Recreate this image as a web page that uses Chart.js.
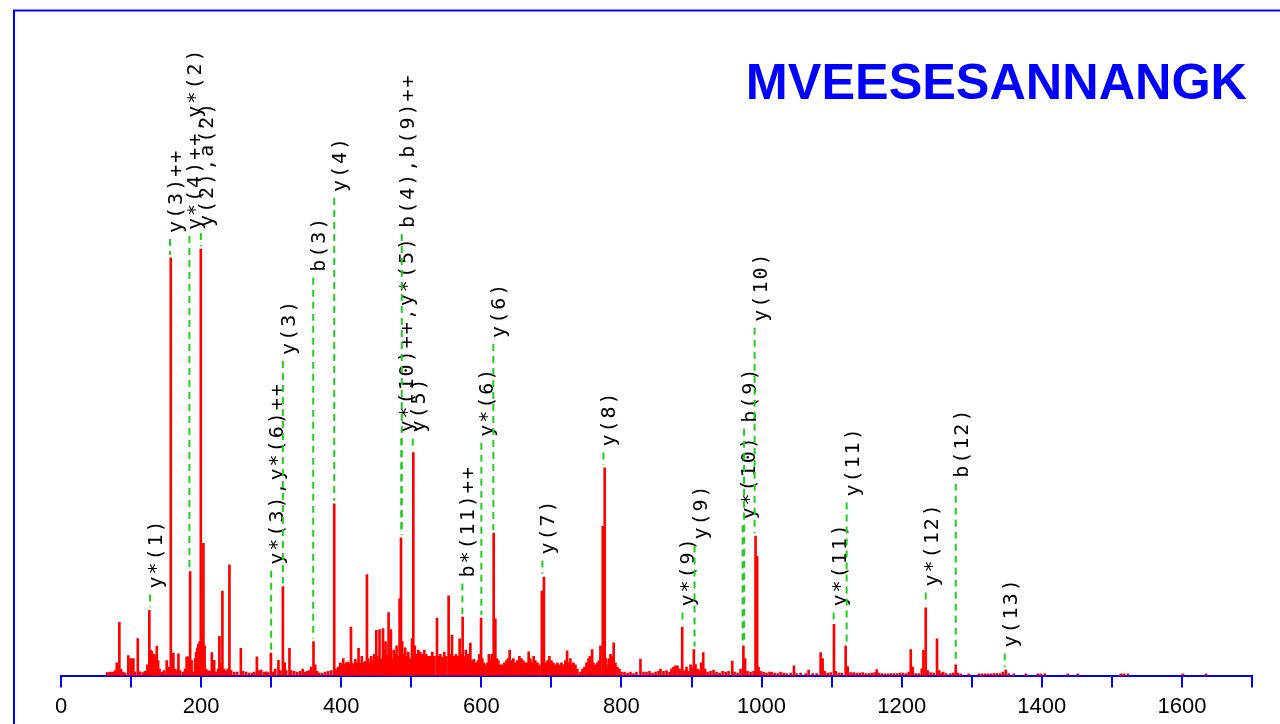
<!DOCTYPE html>
<html>
<head>
<meta charset="utf-8">
<script src="https://cdn.jsdelivr.net/npm/chart.js@4.4.1/dist/chart.umd.min.js"></script>
<style>
  html, body { margin: 0; padding: 0; background: #ffffff; overflow: hidden; }
  #wrap { width: 1280px; height: 726px; }
</style>
</head>
<body>
<div id="wrap"><canvas id="c" width="1280" height="726"></canvas></div>
<script>
// ---- DATA ----
const peptide = "MVEESESANNANGK";

// peak m/z values
const mz = [
  65.7, 68.6, 71.4, 74.3, 77.1, 79.6, 83.3, 85.7, 88.6, 91.4, 96.1, 99.6, 103.3, 105.7, 109.6, 112.9,
  117.1, 120, 123.3, 126.1, 127.9, 129.6, 131.4, 133.3, 135, 136.7, 138.6, 140.7, 144.3, 147.1, 150.9,
  153.6, 156.7, 158.6, 160.4, 162.9, 165, 167.6, 170, 174.3, 177.1, 179.3, 181.9, 184.3, 186.4, 188.6,
  191.4, 192.9, 194.6, 196.1, 197.9, 199.6, 201.4, 203.3, 205, 207.1, 210, 212.9, 215.3, 218.6, 221.4,
  224.3, 226.1, 228.6, 230.4, 232.9, 235.7, 237.9, 240.4, 242.9, 247.1, 251.4, 256.7, 260, 264.3, 268.6,
  272.9, 275.7, 279.6, 282.1, 285.7, 290, 292.9, 295.7, 299.6, 302.9, 305.7, 310.4, 312.9, 316.7, 319.3,
  321.4, 326.1, 328.6, 332.9, 337.1, 341.4, 345, 348.6, 351.4, 354.3, 357.1, 360.4, 362.9, 365.7, 368.6,
  372.9, 377.1, 381.4, 385.7, 390, 392.9, 395.7, 398.6, 400.7, 402.9, 405, 407.1, 409.3, 411.4, 413.9,
  415.7, 417.9, 420, 422.1, 424.7, 427.1, 429.3, 431.4, 433.6, 436.7, 438.6, 440.7, 442.9, 445, 447.1,
  450, 452.1, 454.7, 457.1, 459.6, 461.4, 463.3, 465, 467.6, 469.3, 470.9, 472.9, 475, 477.1, 479, 480.7,
  483.3, 485.3, 487.1, 489.3, 491.4, 493.6, 495.7, 497.9, 501, 502.9, 505, 507.1, 510, 512.9, 515.7,
  518.6, 521.4, 524.3, 527.1, 530, 532.9, 536.7, 538.6, 541.4, 544.3, 547.1, 550, 553.3, 555.7, 558.1,
  560.7, 563.6, 566.4, 569, 571.4, 573.3, 575.7, 577.9, 580.7, 584.3, 587.1, 589.3, 592.1, 595, 597.1,
  599.6, 601.4, 603.6, 605.7, 608.6, 610.7, 612.9, 615, 617.6, 620, 622.1, 624.3, 627.1, 630, 632.9,
  635.7, 637.9, 640.4, 642.9, 645.7, 648.6, 651.4, 654.3, 657.1, 660, 662.9, 665, 667.6, 670, 672.1,
  674.7, 677.1, 680, 682.9, 686.4, 689.3, 692.1, 694.3, 697.1, 700, 702.9, 705.7, 708.6, 711.4, 714.3,
  717.1, 720, 722.4, 725, 727.1, 729.3, 731.4, 734.3, 737.1, 741.4, 744.3, 747.1, 750, 752.9, 755,
  758.1, 760, 762.9, 765.7, 767.9, 770, 773.3, 776.1, 777.9, 780, 782.1, 784.3, 786.4, 788.9, 791.4,
  794.3, 797.1, 800, 804.3, 808.6, 812.9, 817.1, 821.4, 827.1, 831.4, 835.7, 840, 844.3, 848.6, 852.9,
  855.7, 860, 864.3, 868.6, 871.4, 874.3, 877.1, 880, 882.9, 886.7, 890, 892.9, 895.7, 898.6, 900.7,
  903.3, 905.7, 908.6, 911.4, 913.6, 916.7, 919.3, 922.9, 927.1, 931.4, 935.7, 940, 944.3, 948.6, 952.9,
  958.1, 961.4, 965.7, 970, 974, 976.4, 980, 984.3, 988.6, 991.4, 993.6, 995.7, 998.6, 1002.9, 1007.1,
  1011.4, 1014.3, 1018.6, 1022.9, 1027.1, 1031.4, 1035.7, 1041.4, 1046.1, 1050, 1055.7, 1062.9, 1067.1,
  1072.9, 1078.6, 1084.3, 1087.1, 1090, 1094.3, 1098.6, 1103.3, 1105.7, 1110, 1114.3, 1120, 1122.9,
  1127.1, 1131.4, 1135.7, 1140, 1144.3, 1148.6, 1152.9, 1157.1, 1161.4, 1164.3, 1167.1, 1171.4, 1175.7,
  1180, 1184.3, 1188.6, 1192.9, 1197.1, 1201.4, 1205.7, 1210, 1212.9, 1215.7, 1220, 1224.3, 1228.6,
  1231, 1234.3, 1237.1, 1241.4, 1245.7, 1250.4, 1253.6, 1256.4, 1259.3, 1263.6, 1269.3, 1273.6, 1277.1,
  1280, 1284.3, 1295.7, 1310, 1314.3, 1318.6, 1322.9, 1327.1, 1331.4, 1335.7, 1340, 1344.3, 1348.6,
  1352.9, 1360, 1377.1, 1394.3, 1398.6, 1404.3, 1437.1, 1451.4, 1512.9, 1517.1, 1522.9, 1601.4, 1634.3
];

// relative intensity (%) of each peak
const intensity = [
  0.7, 0.7, 0.8, 0.8, 1.2, 3, 12.5, 1.5, 0.8, 0.6, 4.7, 4, 4, 0.8, 8.7, 0.9,
  0.7, 1, 2.5, 15.3, 6, 5.7, 4.5, 5, 4, 6.9, 3.5, 1.5, 0.8, 1.2, 3.5,
  2, 98, 2, 5.3, 1.5, 1.2, 5.1, 1.2, 0.8, 1.5, 4.4, 4.4, 24.4, 3.5, 0.8,
  4, 5.5, 6.5, 7.4, 8, 100, 9, 31, 7, 1.5, 1.2, 1, 5.4, 3.6, 0.8,
  1.5, 9.2, 3, 19.8, 1.5, 1, 1.5, 26, 1.2, 0.8, 0.8, 6.4, 1, 0.8, 0.6,
  0.6, 0.8, 4.4, 1.2, 1.3, 0.8, 0.9, 0.7, 5.3, 0.8, 1.5, 3.6, 1.2, 20.9, 3,
  1.2, 6.4, 1.2, 1, 0.8, 1, 1.5, 0.8, 1, 1.2, 2, 8, 2.5, 1, 0.6,
  0.6, 0.8, 1, 1.2, 40.3, 1.5, 2, 3, 2.5, 4, 2.5, 3, 3.2, 2.8, 11.4,
  3, 2.5, 3.8, 3, 6.4, 3, 4.5, 3, 3.3, 23.7, 4, 3, 4.5, 3.3, 5,
  10.6, 4.5, 10.8, 4, 11, 6, 8, 5, 14.8, 5, 10.8, 4, 6, 5, 7, 4.5,
  18, 32.3, 8, 5, 6.5, 4.5, 5.5, 4, 8.7, 52.3, 7, 5, 6, 5.5, 5,
  6, 5, 4.5, 4.5, 5.5, 4.5, 13.5, 4.5, 5, 4.3, 5.5, 4.5, 18.7, 5, 9.5,
  4.5, 5, 4.5, 8.6, 5, 13.7, 4.5, 6, 5, 7.6, 3.5, 3.8, 3, 3.5, 5,
  13.5, 4, 3, 2.5, 3, 5, 4, 5, 33.4, 13.3, 4, 3.5, 2.5, 2.5, 3,
  3.5, 4, 6, 3.5, 4, 3, 3.5, 4.5, 4, 3.5, 3, 3, 5.6, 4, 3,
  4.5, 3.5, 3, 2.5, 19.8, 23.1, 3, 3.5, 4.5, 3.5, 3, 2.5, 3, 2.5, 3,
  2.5, 3.5, 5.8, 3, 4, 2.5, 3, 2.5, 1.5, 0.8, 1.5, 2, 3, 4, 4.5,
  6.1, 3, 2.5, 3, 3.5, 7, 35, 48.7, 4, 2.5, 4, 5, 4.5, 7.7, 3,
  2, 1.5, 0.8, 0.8, 0.6, 0.8, 0.5, 0.8, 3.9, 0.8, 0.8, 1, 0.6, 0.8, 1,
  1.5, 1, 1.2, 0.8, 1.6, 2, 2.3, 2.3, 1.5, 11.4, 1.2, 2, 1, 2.5, 1.8,
  6.1, 2.6, 1.5, 1.2, 3, 5.4, 1.5, 0.8, 1, 1.3, 0.8, 0.6, 1, 0.8, 1,
  3.4, 0.8, 0.6, 1.5, 7, 4, 1, 0.8, 1, 32.7, 28, 2, 1, 0.8, 0.6,
  0.8, 0.8, 0.6, 0.5, 0.8, 0.6, 0.5, 0.6, 2.3, 0.5, 0.6, 0.5, 1.3,
  0.5, 0.5, 5.4, 4, 1, 0.6, 0.7, 12, 1, 0.6, 0.6, 6.9, 2.1,
  0.7, 0.7, 0.6, 0.6, 0.7, 0.5, 0.5, 0.6, 0.7, 1.4, 0.6, 0.5, 0.4,
  0.4, 0.5, 0.5, 0.5, 0.6, 0.6, 0.5, 0.8, 6.1, 2, 0.5, 0.5, 1.6,
  6, 15.9, 1.2, 0.7, 0.6, 8.6, 1.2, 0.6, 0.8, 0.5, 0.5, 0.6, 2.5,
  0.6, 0.4, 0.4, 0.4, 0.4, 0.4, 0.4, 0.4, 0.5, 0.5, 0.5, 0.8, 1.3,
  0.5, 0.4, 0.4, 0.4, 0.4, 0.4, 0.4, 0.4, 0.4, 0.4, 0.4, 0.4, 0.4
];

// fragment annotations
const labelText = [
  "y*(1)", "y(3)++", "y*(4)++,y*(2)", "y(2),a(2)", "y*(3),y*(6)++", "y(3)", "b(3)", "y(4)",
  "y*(10)++,y*(5)", "b(4),b(9)++", "y(5)", "b*(11)++", "y*(6)", "y(6)", "y(7)", "y(8)",
  "y*(9)", "y(9)", "y*(10)", "b(9)", "y(10)", "y*(11)", "y(11)", "y*(12)", "b(12)", "y(13)"
];
const labelMz = [
  127.1, 155.7, 183.3, 199.6, 300, 316.7, 360, 390,
  485.7, 486.4, 502.1, 572.9, 600, 617.1, 687.1, 774.3,
  887.1, 904.3, 972.9, 975, 990, 1102.9, 1121.4, 1234.3, 1277.1, 1347.1
];
// height (in % units) where each label text begins
const labelLevel = [
  20.4, 103.8, 104.5, 105.2, 26, 75.2, 94.7, 113.4,
  57, 105, 57, 23, 56, 79.2, 28.4, 53.7,
  16.2, 31.9, 36.6, 59.3, 83, 16.2, 42, 20.9, 46.4, 6.6
];

const xTickStep = 100;
const xMin = 0, xMax = 1700;

// ---- CHART ----
const annotate = {
  id: 'annotate',
  beforeDraw(chart) {
    const ctx = chart.ctx;
    ctx.save();
    ctx.strokeStyle = '#0000ff';
    ctx.lineWidth = 2;
    ctx.beginPath();
    ctx.moveTo(13, 10.5); ctx.lineTo(1280, 10.5);
    ctx.moveTo(14, 9.5); ctx.lineTo(14, 726);
    ctx.stroke();
    ctx.restore();
  },
  afterDatasetsDraw(chart) {
    const ctx = chart.ctx;
    const xs = chart.scales.x, ys = chart.scales.y;
    ctx.save();
    labelText.forEach((t, i) => {
      const px = xs.getPixelForValue(labelMz[i]);
      const yText = ys.getPixelForValue(labelLevel[i]);
      ctx.save();
      ctx.translate(px + 12, yText);
      ctx.rotate(-Math.PI / 2);
      ctx.fillStyle = '#000000';
      ctx.font = '20px "DejaVu Sans Mono"';
      ctx.letterSpacing = '2px';
      ctx.textAlign = 'left';
      ctx.textBaseline = 'alphabetic';
      ctx.fillText(t, 0, 0);
      ctx.restore();
    });
    labelText.forEach((t, i) => {
      const px = xs.getPixelForValue(labelMz[i]);
      let peak = 0;
      mz.forEach((m, j) => { if (Math.abs(m - labelMz[i]) <= 2.5 && intensity[j] > peak) peak = intensity[j]; });
      const yPeak = ys.getPixelForValue(peak);
      const yText = ys.getPixelForValue(labelLevel[i]);
      ctx.strokeStyle = '#22cc22';
      ctx.lineWidth = 2;
      ctx.setLineDash([7, 5]);
      ctx.beginPath();
      ctx.moveTo(px, yText + 6);
      ctx.lineTo(px, yPeak - 3);
      ctx.stroke();
    });
    ctx.setLineDash([]);
    ctx.fillStyle = '#0000ff';
    ctx.font = 'bold 50.4px "Liberation Sans"';
    ctx.textAlign = 'right';
    ctx.textBaseline = 'alphabetic';
    ctx.fillText(peptide, 1247, 99);
    ctx.restore();
  }
};

new Chart(document.getElementById('c'), {
  type: 'bar',
  data: {
    datasets: [{
      data: mz.map((m, i) => ({ x: m, y: intensity[i] })),
      backgroundColor: '#ff0000',
      borderWidth: 0,
      barThickness: 2
    }]
  },
  options: {
    responsive: false,
    animation: false,
    devicePixelRatio: 1,
    layout: { padding: { left: 61, right: 28, top: 36, bottom: 0 } },
    plugins: { legend: { display: false }, tooltip: { enabled: false }, title: { display: false } },
    scales: {
      x: {
        type: 'linear', min: xMin, max: xMax, offset: false,
        grid: { display: true, offset: false, drawOnChartArea: false, drawTicks: true, tickLength: 12, color: '#0000ff', lineWidth: 2 },
        border: { display: true, color: '#0000ff', width: 2 },
        ticks: {
          stepSize: xTickStep, autoSkip: false, maxRotation: 0, padding: 6,
          color: '#000000', font: { family: 'Liberation Sans', size: 22 },
          callback: (v) => (v % 200 === 0 && v < xMax) ? String(v) : ''
        }
      },
      y: { display: false, min: 0, max: 150 }
    }
  },
  plugins: [annotate]
});
</script>
</body>
</html>
